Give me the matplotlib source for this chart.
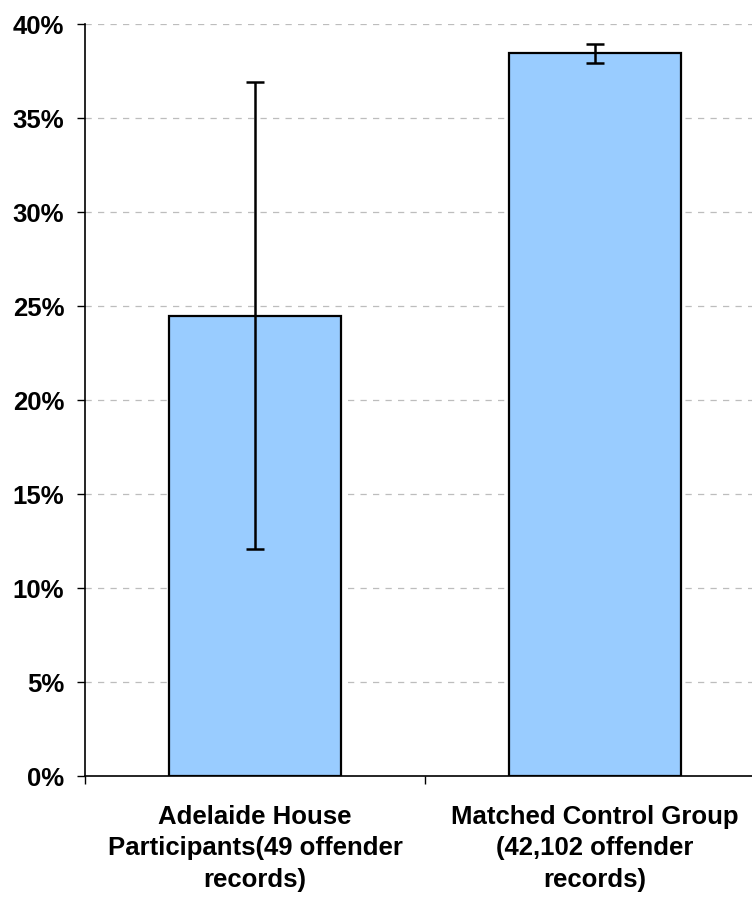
import matplotlib
matplotlib.use("Agg")
import matplotlib.pyplot as plt
from matplotlib.ticker import MultipleLocator, FuncFormatter, FixedLocator

categories = ["Adelaide House\nParticipants(49 offender\nrecords)",
              "Matched Control Group\n(42,102 offender\nrecords)"]
values = [24.45, 38.45]
err_low = [12.05, 37.95]
err_high = [36.9, 38.95]

plt.rcParams['font.family'] = ['Liberation Sans', 'DejaVu Sans']

fig = plt.figure(figsize=(7.52, 9.03), dpi=100)
ax = fig.add_axes([85/752, 1-777/903, 680/752, 752/903])

x = list(range(len(categories)))
yerr = [[v - lo for v, lo in zip(values, err_low)],
        [hi - v for v, hi in zip(values, err_high)]]
ax.bar(x, values, width=0.505, color="#99CCFF", edgecolor="black", linewidth=1.6, zorder=2)
ax.errorbar(x, values, yerr=yerr, fmt="none", ecolor="black", elinewidth=1.8,
            capsize=6.5, capthick=1.8, zorder=3)

ax.set_xlim(-0.5, 1.5)
ax.set_ylim(0, 40)
ax.yaxis.set_major_locator(MultipleLocator(5))
ax.yaxis.set_major_formatter(FuncFormatter(lambda v, p: f"{int(round(v))}%"))
ax.grid(axis="y", color="#bdbdbd", linestyle=(0, (5, 5)), linewidth=0.9, zorder=0)
ax.set_axisbelow(True)

ax.set_xticks(x)
ax.set_xticklabels(categories, fontsize=18.5, fontweight="bold", linespacing=1.4)
ax.tick_params(axis="x", which="major", length=0, pad=20)
ax.xaxis.set_minor_locator(FixedLocator([-0.5, 0.5, 1.5]))
ax.tick_params(axis="x", which="minor", length=6, width=1, direction="out")
ax.tick_params(axis="y", labelsize=18.5, length=6, width=1, pad=9)
for lab in ax.get_yticklabels():
    lab.set_fontweight("bold")

for s in ["top", "right"]:
    ax.spines[s].set_visible(False)
for s in ["left", "bottom"]:
    ax.spines[s].set_linewidth(1.2)
    ax.spines[s].set_color("black")

fig.savefig("out.png", dpi=100)
